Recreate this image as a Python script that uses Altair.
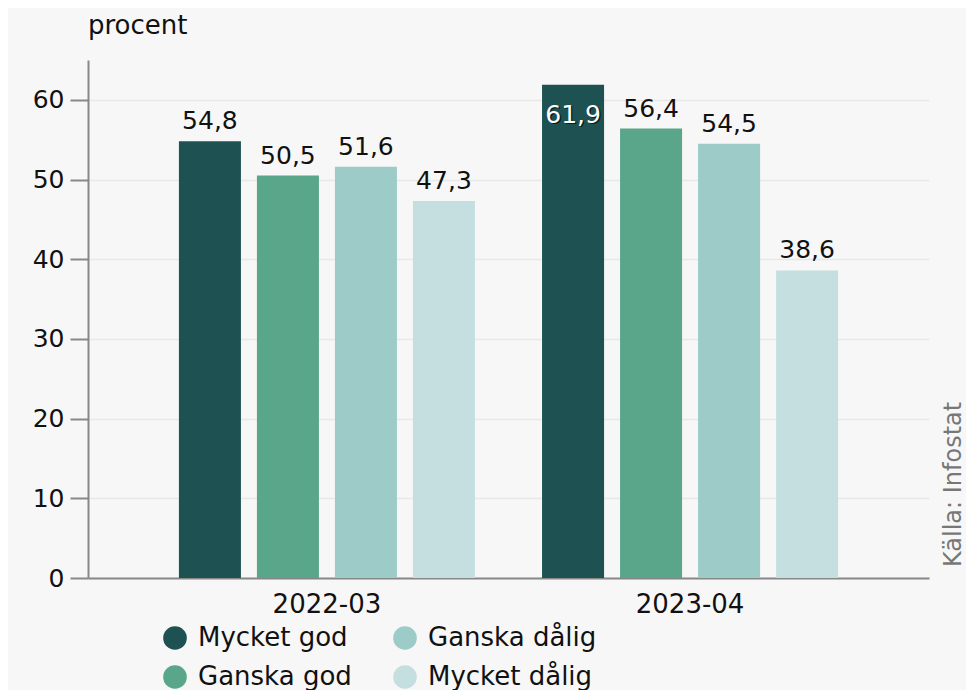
import altair as alt
import pandas as pd

periods = ["2022-03", "2023-04"]
categories = ["Mycket god", "Ganska god", "Ganska dålig", "Mycket dålig"]
values_2022 = [54.8, 50.5, 51.6, 47.3]
values_2023 = [61.9, 56.4, 54.5, 38.6]
colors = ["#1e5151", "#5aa68a", "#9dcbc8", "#c5dfe0"]
legend_order = ["Mycket god", "Ganska dålig", "Ganska god", "Mycket dålig"]
source_text = "Källa: Infostat"

rows = []
for p, vals in zip(periods, [values_2022, values_2023]):
    for c, v in zip(categories, vals):
        rows.append({"period": p, "cat": c, "value": v,
                     "label": f"{v:.1f}".replace(".", ",")})
df = pd.DataFrame(rows)

FONT = "DejaVu Sans"
FS = 25
color_map = dict(zip(categories, colors))

x_enc = alt.X("period:N", sort=periods, title=None,
              scale=alt.Scale(paddingInner=0, paddingOuter=0.158),
              axis=alt.Axis(labelAngle=0, ticks=False, labelFontSize=26, labelFont=FONT,
                            labelColor="#111", labelPadding=13, domainColor="#888",
                            domainWidth=2))
xo_enc = alt.XOffset("cat:N", sort=categories,
                     scale=alt.Scale(paddingInner=0.205, paddingOuter=0.43))
y_enc = alt.Y("value:Q", title=None,
              scale=alt.Scale(domain=[0, 65], nice=False),
              axis=alt.Axis(values=[0, 10, 20, 30, 40, 50, 60], tickSize=18, tickColor="#888",
                            tickWidth=2, domainColor="#888", domainWidth=2,
                            gridColor="#e8e8e8", gridWidth=1.5, labelFontSize=FS,
                            labelFont=FONT, labelColor="#111", labelPadding=6))

base = alt.Chart(df)

bars = base.mark_bar().encode(
    x=x_enc, xOffset=xo_enc, y=y_enc,
    color=alt.Color("cat:N",
                    scale=alt.Scale(domain=legend_order,
                                    range=[color_map[c] for c in legend_order]),
                    legend=alt.Legend(title=None, orient="none", legendX=74, legendY=565,
                                      columns=2, symbolType="circle", symbolSize=560,
                                      symbolStrokeWidth=0, labelFontSize=26, labelFont=FONT,
                                      labelColor="#111", rowPadding=13, columnPadding=40,
                                      labelOffset=10, labelLimit=400,
                                      direction="horizontal")),
)

above = base.transform_filter("datum.value < 60").mark_text(
    baseline="alphabetic", dy=-12, fontSize=FS, font=FONT, color="#111"
).encode(x=x_enc, xOffset=xo_enc, y=y_enc, text="label:N")

inside_shadow = base.transform_filter("datum.value >= 60").mark_text(
    baseline="alphabetic", dy=39.5, dx=1.5, fontSize=FS, font=FONT, color="#0a1f1f"
).encode(x=x_enc, xOffset=xo_enc, y=y_enc, text="label:N")

inside = base.transform_filter("datum.value >= 60").mark_text(
    baseline="alphabetic", dy=38, fontSize=FS, font=FONT, color="white"
).encode(x=x_enc, xOffset=xo_enc, y=y_enc, text="label:N")

src = alt.Chart(pd.DataFrame({"t": [source_text]})).mark_text(
    angle=270, align="left", baseline="middle", fontSize=24, font=FONT, color="#777"
).encode(x=alt.value(866), y=alt.value(507), text="t:N")

chart = alt.layer(bars, above, inside_shadow, inside, src).properties(
    width=841, height=518,
    title=alt.TitleParams("procent", anchor="start", frame="group", fontSize=26, font=FONT,
                          fontWeight="normal", color="#111", offset=21),
    background="#f7f7f7",
    padding={"left": 80, "top": 52, "right": 37, "bottom": 112},
    autosize=alt.AutoSizeParams(type="none"),
).configure_view(stroke=None)

chart.save("out.html", embed_options={"renderer": "svg", "actions": False})
